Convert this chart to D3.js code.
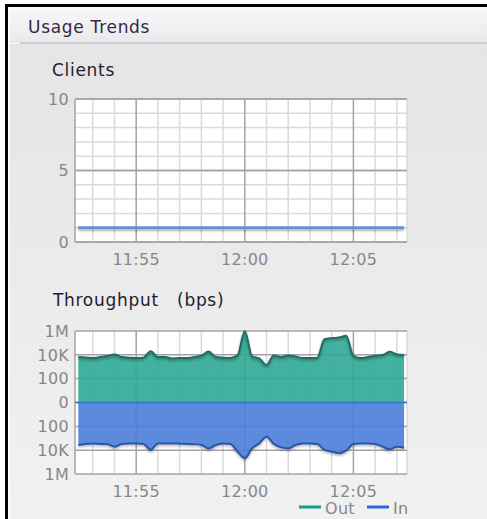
<!DOCTYPE html>
<html>
<head>
<meta charset="utf-8">
<script src="https://cdn.jsdelivr.net/npm/d3@7"></script>
<style>
  body { margin: 0; background: #fff; }
  svg { display: block; font-family: "DejaVu Sans", Verdana, sans-serif; }
  .tick-label { fill: #878787; font-size: 16px; letter-spacing: 0.3px; }
  .title { fill: #231c30; font-size: 17px; letter-spacing: 0.7px; white-space: pre; }
</style>
</head>
<body>
<svg id="chart" width="487" height="519"></svg>
<script>
// sample times (20 s polling)
var times = ["11:52:20","11:52:40","11:53:00","11:53:20","11:53:40","11:54:00","11:54:20","11:54:40",
  "11:55:00","11:55:20","11:55:40","11:56:00","11:56:20","11:56:40","11:57:00","11:57:20",
  "11:57:40","11:58:00","11:58:20","11:58:40","11:59:00","11:59:20","11:59:40","12:00:00",
  "12:00:20","12:00:40","12:01:00","12:01:20","12:01:40","12:02:00","12:02:20","12:02:40",
  "12:03:00","12:03:20","12:03:40","12:04:00","12:04:20","12:04:40","12:05:00","12:05:20",
  "12:05:40","12:06:00","12:06:20","12:06:40","12:07:00","12:07:20"];

var clients = [1,1,1,1,1,1,1,1,1,1,1,1,1,1,1,1,1,1,1,1,1,1,1,1,
  1,1,1,1,1,1,1,1,1,1,1,1,1,1,1,1,1,1,1,1,1,1];

// throughput in bps
var outBps = [6500,6000,5400,6500,7900,10700,6500,5800,5400,5800,20000,6500,6500,5000,5400,5400,
  6500,8300,19000,6500,5800,5400,8900,950000,7400,5000,1400,8900,6500,8900,7400,5400,
  5400,5400,204000,250000,280000,390000,8000,5400,6500,8300,9500,18000,10700,9500];
var inBps = [3700,3000,2700,3000,3200,5100,3000,2700,2700,3000,9500,2700,2700,2700,2900,3000,
  3200,3700,7100,3700,2700,3000,13500,48000,7100,2700,740,3000,5800,7100,3700,2700,
  2700,3000,9500,13500,18000,11000,3000,2700,2700,3000,5100,8500,5100,6300];

var clientTicks = [0, 5, 10];
var bpsTicks = [-1e6, -1e4, -100, 0, 100, 1e4, 1e6];
var bpsLabels = {0: "0", 100: "100", 10000: "10K", 1000000: "1M"};
var timeRange = ["11:52:11", "12:07:28"];

var parseTime = d3.timeParse("%H:%M:%S");
var svg = d3.select("#chart");

// panel
var defs = svg.append("defs");
var hg = defs.append("linearGradient").attr("id", "hdr").attr("x1", 0).attr("y1", 0).attr("x2", 0).attr("y2", 1);
hg.append("stop").attr("offset", 0).attr("stop-color", "#f7f7f7");
hg.append("stop").attr("offset", 1).attr("stop-color", "#e9e9e9");
var bg = defs.append("linearGradient").attr("id", "body").attr("x1", 0).attr("y1", 0).attr("x2", 0).attr("y2", 1);
bg.append("stop").attr("offset", 0).attr("stop-color", "#e5e5e5");
bg.append("stop").attr("offset", 1).attr("stop-color", "#f1f1f1");
var sh = defs.append("filter").attr("id", "shadow").attr("filterUnits", "userSpaceOnUse")
  .attr("x", 0).attr("y", 0).attr("width", 487).attr("height", 519);
sh.append("feDropShadow").attr("dx", 0).attr("dy", 1.5).attr("stdDeviation", 1).attr("flood-color", "#000").attr("flood-opacity", 0.35);

svg.append("rect").attr("x", 5).attr("y", 4).attr("width", 482).attr("height", 515).attr("fill", "#000");
svg.append("rect").attr("x", 8).attr("y", 7).attr("width", 479).attr("height", 512).attr("fill", "#fbfbfb");
svg.append("rect").attr("x", 10).attr("y", 9).attr("width", 477).attr("height", 34).attr("fill", "url(#hdr)");
svg.append("rect").attr("x", 10).attr("y", 44).attr("width", 477).attr("height", 475).attr("fill", "url(#body)");
svg.append("rect").attr("x", 20).attr("y", 42).attr("width", 467).attr("height", 2).attr("fill", "#c9d0da");
svg.append("text").attr("class", "title").attr("x", 28).attr("y", 33).attr("fill", "#35284a").style("fill", "#35284a").text("Usage Trends");

var x = d3.scaleTime().domain(timeRange.map(parseTime)).range([75, 407]);

function grid(g, y0, y1) {
  var minutes = x.ticks(d3.timeMinute.every(1));
  g.selectAll("line.vminor").data(minutes).join("line")
    .attr("x1", d => x(d)).attr("x2", d => x(d)).attr("y1", y0).attr("y2", y1)
    .attr("stroke", d => d.getMinutes() % 5 === 0 ? "#a3a3a3" : "#dadada").attr("stroke-width", 1.5);
  g.append("line").attr("x1", 407).attr("x2", 407).attr("y1", y0).attr("y2", y1).attr("stroke", "#dadada").attr("stroke-width", 1.5);
  g.append("line").attr("x1", 75).attr("x2", 75).attr("y1", y0).attr("y2", y1).attr("stroke", "#a3a3a3").attr("stroke-width", 1.5);
}

function timeLabels(g, yBase) {
  g.selectAll("text.xl").data(x.ticks(d3.timeMinute.every(5))).join("text")
    .attr("class", "tick-label").attr("text-anchor", "middle")
    .attr("x", d => x(d)).attr("y", yBase).text(d3.timeFormat("%H:%M"));
}

// ---- Clients ----
svg.append("text").attr("class", "title").attr("x", 52).attr("y", 76).text("Clients");
var yc = d3.scaleLinear().domain([0, 10]).range([242, 99]);
var gc = svg.append("g");
gc.append("rect").attr("x", 75).attr("y", 99).attr("width", 332).attr("height", 143).attr("fill", "#fff");
gc.selectAll("line.h").data(d3.range(0, 11)).join("line")
  .attr("x1", 75).attr("x2", 407).attr("y1", d => yc(d)).attr("y2", d => yc(d))
  .attr("stroke", d => d % 5 === 0 ? "#a3a3a3" : "#dadada").attr("stroke-width", 1.5);
grid(gc, 99, 242);
gc.selectAll("line.h2").data(clientTicks).join("line")
  .attr("x1", 75).attr("x2", 407).attr("y1", d => yc(d)).attr("y2", d => yc(d))
  .attr("stroke", "#a3a3a3").attr("stroke-width", 1.5);
gc.selectAll("text.yl").data(clientTicks).join("text")
  .attr("class", "tick-label").attr("text-anchor", "end")
  .attr("x", 69).attr("y", d => yc(d)).attr("dy", "0.36em").text(d => d);
timeLabels(gc, 265);
gc.append("path")
  .datum(times.map((t, i) => [parseTime(t), clients[i]]))
  .attr("fill", "none").attr("stroke", "#6b8fd5").attr("stroke-width", 3)
  .attr("filter", "url(#shadow)")
  .attr("d", d3.line().x(d => x(d[0])).y(d => yc(d[1])));

// ---- Throughput ----
svg.append("text").attr("class", "title").attr("x", 53).attr("y", 306).text("Throughput   (bps)");
var yt = d3.scaleSymlog().domain([-1e6, 1e6]).range([474, 331]);
var gt = svg.append("g");
gt.append("rect").attr("x", 75).attr("y", 331).attr("width", 332).attr("height", 143).attr("fill", "#fff");
grid(gt, 331, 474);
gt.selectAll("line.h").data(bpsTicks).join("line")
  .attr("x1", 75).attr("x2", 407).attr("y1", d => yt(d)).attr("y2", d => yt(d))
  .attr("stroke", "#a3a3a3").attr("stroke-width", 1.5);

var outData = times.map((t, i) => [parseTime(t), outBps[i]]);
var inData = times.map((t, i) => [parseTime(t), -inBps[i]]);
var area = d3.area().curve(d3.curveMonotoneX).x(d => x(d[0])).y0(yt(0)).y1(d => yt(d[1]));
var edge = d3.line().curve(d3.curveMonotoneX).x(d => x(d[0])).y(d => yt(d[1]));

gt.append("path").datum(outData).attr("d", area).attr("fill", "#2ea896").attr("fill-opacity", 0.9);
gt.append("path").datum(inData).attr("d", area).attr("fill", "#4a7ed9").attr("fill-opacity", 0.9);
gt.append("path").datum(outData).attr("d", edge).attr("fill", "none")
  .attr("stroke", "#236c5f").attr("stroke-width", 2).attr("filter", "url(#shadow)");
gt.append("path").datum(inData).attr("d", edge).attr("fill", "none")
  .attr("stroke", "#2a56a4").attr("stroke-width", 2).attr("filter", "url(#shadow)");
gt.append("line").attr("x1", 75).attr("x2", 407).attr("y1", yt(0)).attr("y2", yt(0))
  .attr("stroke", "#3a6fc8").attr("stroke-width", 1.5);

gt.selectAll("text.yl").data(bpsTicks).join("text")
  .attr("class", "tick-label").attr("text-anchor", "end")
  .attr("x", 69).attr("y", d => yt(d)).attr("dy", "0.36em").text(d => bpsLabels[Math.abs(d)]);
timeLabels(gt, 497);

// legend
var legend = [{name: "Out", color: "#12a088", x: 299}, {name: "In", color: "#2f66d6", x: 367}];
var lg = svg.append("g").selectAll("g").data(legend).join("g");
lg.append("line").attr("x1", d => d.x).attr("x2", d => d.x + 22).attr("y1", 507).attr("y2", 507)
  .attr("stroke", d => d.color).attr("stroke-width", 3);
lg.append("text").attr("class", "tick-label").attr("x", d => d.x + 26).attr("y", 514).text(d => d.name);
</script>
</body>
</html>
